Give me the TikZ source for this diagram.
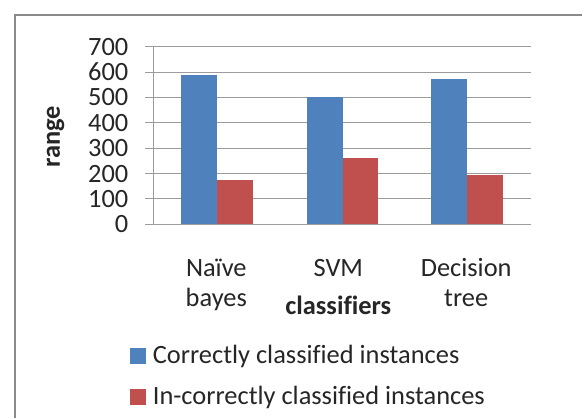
\documentclass[tikz,border=0pt]{standalone}
\usepackage{fontspec}
\setmainfont{Carlito}[Ligatures={NoCommon}]
\definecolor{barblue}{HTML}{4F81BD}
\definecolor{barred}{HTML}{C0504D}
\definecolor{gridgray}{HTML}{9C9C9C}
\definecolor{framegray}{HTML}{8A8A8A}
\tikzset{
  lbl/.style={inner sep=0pt, text=black!85},
  key/.style={minimum size=15.5pt, inner sep=0pt}
}
\begin{document}
\begin{tikzpicture}[x=1pt, y=-1pt, font=\fontsize{26.4}{30}\selectfont]
\useasboundingbox (0,0) rectangle (582,418);
\fill[white] (0,0) rectangle (582,418);
\path[draw,framegray,line width=2pt] (14.5,430) -- (14.5,14.5) -- (600,14.5);

% grid, ticks and value labels
\foreach \v in {0,...,7} {
  \path[draw,gridgray,line width=1pt] (145,{224.3-\v*25.37}) -- (530.7,{224.3-\v*25.37});
  \node[lbl, anchor=east] (v\v) at (128.5,{224.3-\v*25.37}) {\ifnum\v=0 0\else\v00\fi};
}
\path[draw,gridgray,line width=1pt] (153.3,46.7) -- (153.3,224.3);

% bars
\foreach \xa/\va/\vb in {181/589/173, 306.7/502/260, 431/574/196} {
  \fill[barblue] (\xa,224.3) rectangle ({\xa+35.8},{224.3-\va*0.2537});
  \fill[barred] ({\xa+35.8},224.3) rectangle ({\xa+71.6},{224.3-\vb*0.2537});
}

\node[lbl, rotate=90, font=\fontsize{26.4}{30}\selectfont\bfseries] (range) at (55.7,136.7) {range};

\node[lbl, anchor=base] (naive) at (216.3,276) {Naïve};
\node[lbl, anchor=base] (bayes) at (216.3,306.7) {bayes};
\node[lbl, anchor=base] (svm) at (338.3,276) {SVM};
\node[lbl, anchor=base] (decision) at (466.2,276) {Decision};
\node[lbl, anchor=base] (tree) at (466.2,306.7) {tree};
\node[lbl, anchor=base, font=\fontsize{26.4}{30}\selectfont\bfseries] (classifiers) at (338.3,314) {classifiers};

% legend
\node[key, fill=barblue] (keyA) at (137.8,355.8) {};
\node[lbl, anchor=base west] (textA) at (152.7,363.3) {Correctly classified instances};
\node[key, fill=barred] (keyB) at (137.8,397) {};
\node[lbl, anchor=base west] (textB) at (152.7,404) {In-correctly classified instances};
\end{tikzpicture}
\end{document}
